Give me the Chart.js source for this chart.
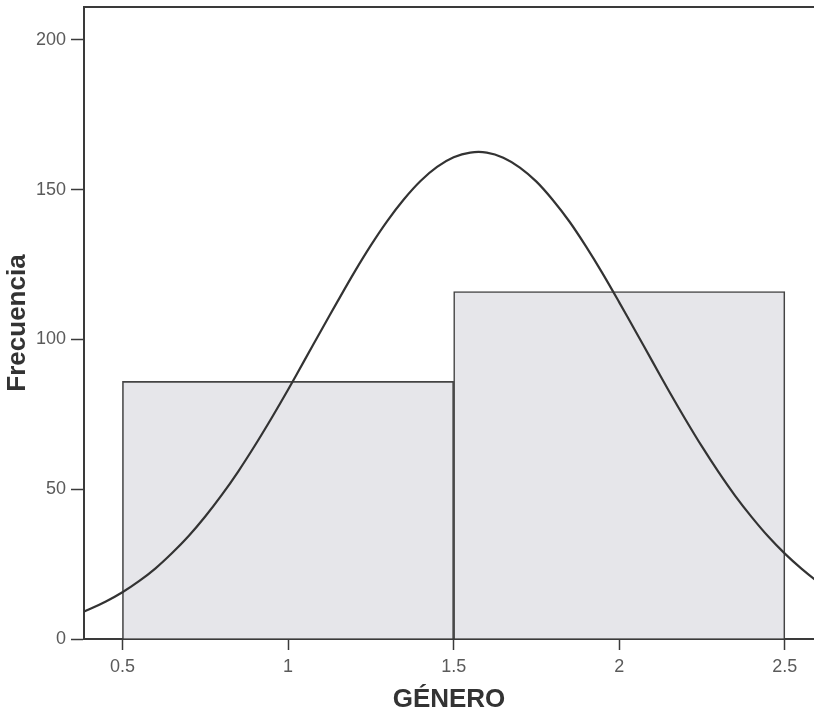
<!DOCTYPE html>
<html>
<head>
<meta charset="utf-8">
<script src="https://cdn.jsdelivr.net/npm/chart.js@4"></script>
<style>
  html, body { margin: 0; padding: 0; background: #fff; overflow: hidden; }
  #wrap { width: 814px; height: 720px; }
</style>
</head>
<body>
<div id="wrap"><canvas id="histChart" width="814" height="720"></canvas></div>
<script>
// histogram bins (centre of each bin) and counts
const binCenters = [1, 2];
const binCounts = [86, 116];

// normal curve, every 0.05
const curveX = [0.30, 0.35, 0.40, 0.45, 0.50, 0.55, 0.60, 0.65, 0.70, 0.75,
                0.80, 0.85, 0.90, 0.95, 1.00, 1.05, 1.10, 1.15, 1.20, 1.25,
                1.30, 1.35, 1.40, 1.45, 1.50, 1.55, 1.60, 1.65, 1.70, 1.75,
                1.80, 1.85, 1.90, 1.95, 2.00, 2.05, 2.10, 2.15, 2.20, 2.25,
                2.30, 2.35, 2.40, 2.45, 2.50, 2.55, 2.60, 2.65, 2.70];
const curveY = [6.0, 7.7, 9.9, 12.5, 15.6, 19.3, 23.6, 28.7, 34.4, 40.9,
                48.1, 56.0, 64.6, 73.7, 83.2, 93.1, 103.0, 112.8, 122.4, 131.4,
                139.6, 146.8, 152.9, 157.6, 160.8, 162.4, 162.4, 160.7, 157.4, 152.7,
                146.5, 139.3, 131.0, 122.0, 112.4, 102.6, 92.7, 82.8, 73.3, 64.2,
                55.7, 47.8, 40.7, 34.2, 28.5, 23.5, 19.1, 15.5, 12.4];

const xTicks = [0.5, 1, 1.5, 2, 2.5];
const yTicks = [0, 50, 100, 150, 200];

const axisColor = '#3a3a3a';
const tickColor = '#5a5a5a';
const ctx = document.getElementById('histChart').getContext('2d');

// kill the label overflow padding so the plot box sits where the reference has it
function noPad(scale) {
    scale.paddingTop = 0;
    scale.paddingBottom = 0;
    scale.paddingLeft = 0;
    scale.paddingRight = 0;
}

const histChart = new Chart(ctx, {
    type: 'bar',
    data: {
        datasets: [{
            type: 'line',
            data: curveX.map((x, i) => ({ x: x, y: curveY[i] })),
            borderColor: '#333',
            borderWidth: 2.2,
            pointRadius: 0,
            tension: 0.3,
            fill: false,
            order: 0
        }, {
            type: 'bar',
            data: binCenters.map((x, i) => ({ x: x, y: binCounts[i] })),
            backgroundColor: '#e6e6ea',
            borderColor: '#444',
            borderWidth: 1.6,
            barThickness: 'flex',
            barPercentage: 1,
            categoryPercentage: 1,
            order: 1
        }]
    },
    options: {
        responsive: false,
        animation: false,
        layout: { padding: 0 },
        plugins: {
            legend: { display: false },
            tooltip: { enabled: false }
        },
        scales: {
            x: {
                type: 'linear',
                position: 'bottom',
                offset: false,
                min: 0.384,
                max: 2.588,
                afterBuildTicks: (scale) => { scale.ticks = xTicks.map(v => ({ value: v })); },
                afterFit: (scale) => { scale.height = 81; noPad(scale); },
                grid: { offset: false, drawOnChartArea: false, tickLength: 11, tickColor: axisColor, tickWidth: 1.5 },
                border: { color: axisColor, width: 2 },
                ticks: {
                    color: tickColor,
                    padding: 6,
                    maxRotation: 0,
                    font: { family: 'Liberation Sans', size: 18 },
                    callback: (v) => String(v)
                },
                title: {
                    display: true,
                    text: 'GÉNERO',
                    color: '#333',
                    padding: { top: 0, bottom: 5 },
                    font: { family: 'Liberation Sans', size: 26, weight: 'bold' }
                }
            },
            xTop: {
                type: 'linear',
                position: 'top',
                offset: false,
                min: 0.384,
                max: 2.588,
                afterFit: (scale) => { scale.height = 7; noPad(scale); },
                grid: { display: false, drawTicks: false },
                border: { display: true, color: axisColor, width: 2 },
                ticks: { display: false }
            },
            y: {
                min: 0,
                max: 211,
                afterBuildTicks: (scale) => { scale.ticks = yTicks.map(v => ({ value: v })); },
                afterFit: (scale) => { scale.width = 84; noPad(scale); },
                grid: { drawOnChartArea: false, tickLength: 13, tickColor: axisColor, tickWidth: 1.5 },
                border: { color: axisColor, width: 2 },
                ticks: {
                    color: tickColor,
                    padding: 5,
                    font: { family: 'Liberation Sans', size: 18 }
                },
                title: {
                    display: true,
                    text: 'Frecuencia',
                    color: '#333',
                    padding: { top: 2, bottom: 0 },
                    font: { family: 'Liberation Sans', size: 26, weight: 'bold' }
                }
            }
        }
    }
});
</script>
</body>
</html>
